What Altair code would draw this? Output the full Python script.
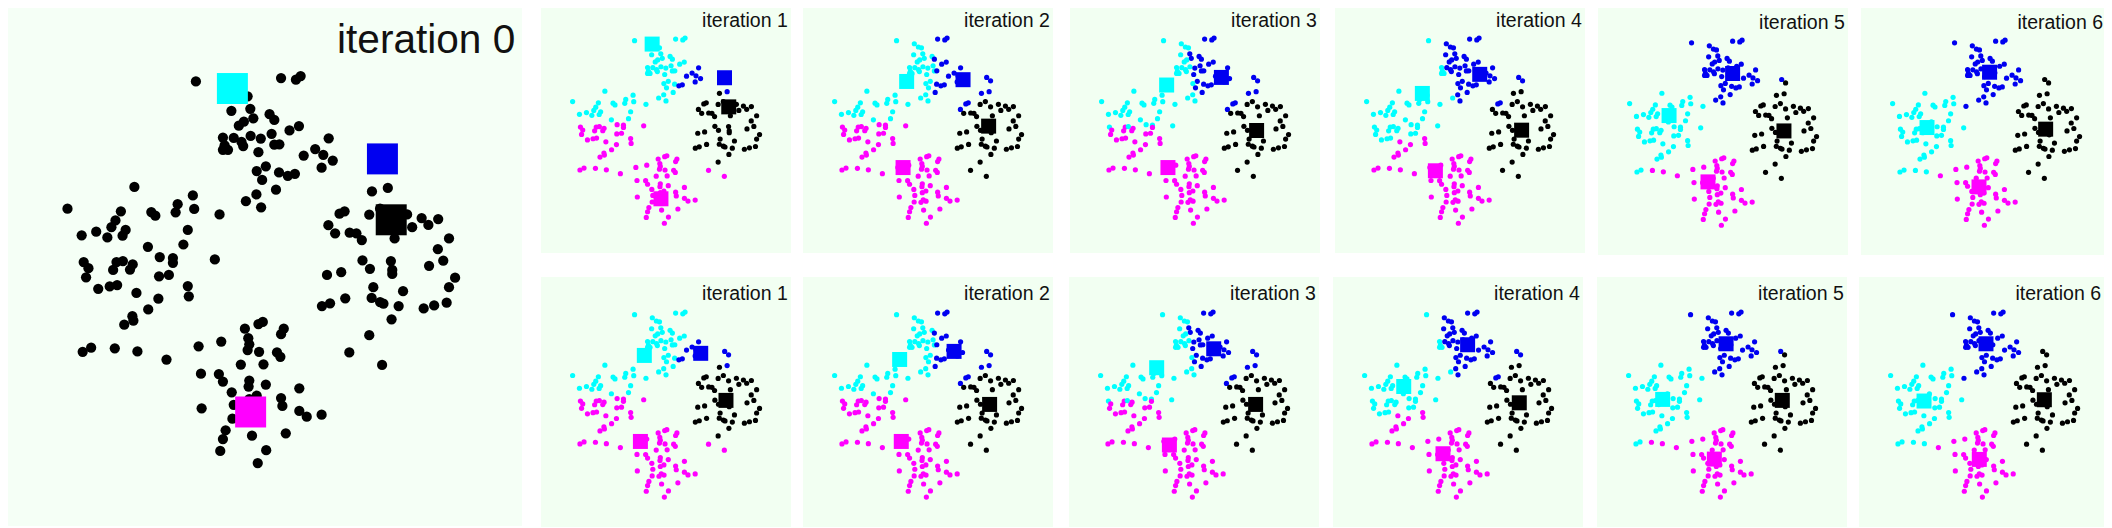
import altair as alt
import pandas as pd

# Point positions (shared by every panel).
TOP_X = [580,832,876,890,733,685,741,750,798,812,722,707,885,857,660,692,742,772,804,715,720,665,660,675,812,827,765,973,933,957,899,985,952,787,760,776,826,852,873,817,759,728,773,689,714]
TOP_Y = [241,231,236,225,285,328,322,350,338,355,360,372,373,386,407,408,402,410,396,420,432,430,443,443,428,427,450,409,441,458,460,475,496,492,506,532,510,520,514,561,575,595,613,260,280]
LEFT_X = [398,571,200,526,520,575,448,460,358,650,342,330,318,285,242,372,363,556,543,438,473,512,512,636,248,262,255,345,364,335,393,385,471,500,347,325,291,404,556,559,469,439,392,395,368,270,245,340,407,493]
LEFT_Y = [553,578,617,604,628,618,627,638,625,634,652,672,702,685,696,680,697,680,723,730,760,763,777,767,775,793,820,775,772,798,782,797,817,813,843,847,854,866,846,876,883,915,935,948,960,1028,1040,1030,1039,1063]
BOTTOM_X = [588,655,725,765,778,840,832,735,738,733,767,820,830,713,780,595,648,660,738,736,787,686,886,760,832,836,692,597,886,908,952,688,668,660,746,846,788,652,763,738,744,761,730]
BOTTOM_Y = [1024,1010,972,958,952,972,988,1000,1018,1035,1040,1042,1055,1078,1077,1105,1106,1128,1125,1143,1137,1160,1148,1170,1177,1200,1197,1207,1215,1232,1226,1238,1272,1298,1288,1281,1331,1333,1369,1180,1225,1233,1240]
RIGHT_X = [1148,1101,1020,1005,1093,1205,1248,1297,1268,1220,972,992,1035,1055,1071,1168,1329,1296,1073,1157,1312,1270,1095,1161,1161,1010,968,1347,1105,1329,1193,1100,1022,1125,1135,977,953,1322,1180,1285,1254,1159,1093,1034,1131,1133,1157,1125,1157]
RIGHT_Y = [556,566,625,632,635,634,645,648,665,672,666,690,688,690,710,705,705,737,770,772,771,786,795,798,810,805,813,821,849,849,861,881,882,893,898,897,905,895,905,903,912,944,991,1042,1079,468,489,617,650]

# Cluster of each point at iterations 1..6, in the order TOP, LEFT, BOTTOM, RIGHT.
TOP_LABELS = [
    "cccccccccc cccccccccc cccccccbbb bbbccccbbc ccccc",
    "cbbbcccccb ccbbcccccc cccccbcbbb bbbcccbbbb ccccc",
    "cbbbccbbbb ccbbcccbbc ccccbbbbbb bbbbcbbbbb ccccc",
    "cbbbbbbbbb bbbbcbbbbb bcccbbbbbb bbbbbbbbbb bcbbb",
    "bbbbbbbbbb bbbbbbbbbb bbbbbbbbbb bbbbbbbbbb bbbbb",
    "bbbbbbbbbb bbbbbbbbbb bbbbbbbbbb bbbbbbbbbb bbbbb",
]
LEFT_LABELS = [
    "cccccccccc cccccccccc mmmmmmmmmm mmmmmmmmmm mmmmmmmmmm",
    "cccccccccc cccccccccc mmmmmmmmmm mmmmmmmmmm mmmmmmmmmm",
    "cccccccccc cccccccccc ccmccmmmcm mmmmmmmmmm mmmmmmmmmm",
    "cccccccccc cccccccccc cccccccccc cccccccmmm mmmmmmmmmm",
    "cccccccccc cccccccccc cccccccccc cccccccccc cccccccmmm",
    "cccccccccb cccccccccc cccccccccc cccccccccc cccccccccm",
]
BOTTOM_LABELS = "mmmmmmmmmm mmmmmmmmmm mmmmmmmmmm mmmmmmmmmm mmm"
RIGHT_LABELS = [
    "bkkkkkkkkk kkkkkkkkkk kkkkkkkkkk kkkkkkkkkk kkkmm bbkk",
    "bbbbkkkkkk bkkkkkkkkk kkkkkkkkkk kkkkkkkkkk kkkkk bbkk",
    "bbbbkkkkkk bkkkkkkkkk kkkkkkkkkk kkkkkkkkkk kkkkk bbkk",
    "kkbbkkkkkk kkkkkkkkkk kkkkkkkkkk kkkkkkkkkk kkkkk bbkk",
    "kkkkkkkkkk kkkkkkkkkk kkkkkkkkkk kkkkkkkkkk kkkkk bkkk",
    "kkkkkkkkkk kkkkkkkkkk kkkkkkkkkk kkkkkkkkkk kkkkk kkkk",
]

# Centroids, order cyan, blue, black, magenta.
CENTROID_KEYS = ["c", "b", "k", "m"]
C0_X = [688,1132,1158,742]
C0_Y = [262,470,650,1218]
TOP_CX = [[688,1132,1158,742],[642,988,1145,620],[599,935,1151,607],[542,894,1151,622],[442,832,1147,681],[411,795,1139,730]]
TOP_CY = [[262,470,650,1218],[493,482,769,1025],[515,468,796,1025],[567,449,794,1045],[691,431,786,1101],[765,423,775,1132]]
BOT_CX = [[640,986,1141,616],[599,933,1151,609],[544,894,1151,622],[440,832,1149,681],[409,798,1143,726],[405,785,1143,744]]
BOT_CY = [[493,480,771,1025],[518,468,796,1025],[569,452,796,1047],[685,427,786,1101],[765,421,771,1134],[775,421,767,1136]]

X = TOP_X + LEFT_X + BOTTOM_X + RIGHT_X
Y = TOP_Y + LEFT_Y + BOTTOM_Y + RIGHT_Y
N = len(X)
PALETTE = alt.Scale(domain=CENTROID_KEYS, range=["#00ffff", "#0000f0", "#000000", "#ff00ff"])


def labels_for(i):
    s = TOP_LABELS[i] + LEFT_LABELS[i] + BOTTOM_LABELS + RIGHT_LABELS[i]
    return s.replace(" ", "")


def panel(keys, cx, cy, title, w, h, xdom, ydom, pt, sq, fs, tx, ty, bg):
    pts = pd.DataFrame({"x": X, "y": Y, "k": list(keys)})
    cen = pd.DataFrame({"x": cx, "y": cy, "k": CENTROID_KEYS})
    lab = pd.DataFrame({"x": [tx], "y": [ty], "t": [title]})
    xs = alt.X("x:Q", scale=alt.Scale(domain=xdom, nice=False, zero=False), axis=None)
    ys = alt.Y("y:Q", scale=alt.Scale(domain=ydom, nice=False, zero=False), axis=None)
    col = alt.Color("k:N", scale=PALETTE, legend=None)
    a = alt.Chart(pts).mark_circle(size=pt, opacity=1).encode(x=xs, y=ys, color=col)
    b = alt.Chart(cen).mark_square(size=sq, opacity=1).encode(x=xs, y=ys, color=col)
    c = alt.Chart(lab).mark_text(align="right", baseline="alphabetic", font="Liberation Sans",
                                 fontSize=fs, color="#111111").encode(x=xs, y=ys, text="t:N")
    return alt.layer(a, b, c).properties(width=w, height=h, view=alt.ViewConfig(fill=bg, strokeWidth=0))


def row(panels, gaps):
    out = panels[0]
    for p, g in zip(panels[1:], gaps):
        out = alt.hconcat(out, p, spacing=g)
    return out


BIG_BG = "#f5fff6"
SMALL_BG = "#f2fff2"
TOP_H = [245, 245, 245, 245, 247, 247]
TOP_YMIN = [39, 39, 39, 39, 26, 26]
TOP_GAPS = [12, 17, 15, 13, 13]
BOT_GAPS = [12, 16, 14, 14, 12]
TOP_W = [250, 250, 250, 250, 250, 243]
BOT_W = [250, 250, 250, 250, 250, 245]
TOP_XMAX = [1540, 1540, 1540, 1540, 1540, 1497]
BOT_XMAX = [1540, 1540, 1540, 1540, 1540, 1509]
LABEL_X = [1520, 1520, 1520, 1520, 1520, 1491]

big = panel("k" * N, C0_X, C0_Y, "iteration 0", 514, 518, [24, 1545], [1555, 24], 105, 960, 40.6, 1525, 158, BIG_BG)
tops = [panel(labels_for(i), TOP_CX[i], TOP_CY[i], f"iteration {i + 1}", TOP_W[i], TOP_H[i], [6, TOP_XMAX[i]],
              [1553, TOP_YMIN[i]], 27, 225, 19.5, LABEL_X[i], 156, SMALL_BG) for i in range(6)]
bots = [panel(labels_for(i), BOT_CX[i], BOT_CY[i], f"iteration {i + 1}", BOT_W[i], 250, [6, BOT_XMAX[i]],
              [1554, 8], 27, 225, 19.5, LABEL_X[i], 152, SMALL_BG) for i in range(6)]

right = alt.vconcat(row(tops, TOP_GAPS), row(bots, BOT_GAPS), spacing=22)
chart = alt.hconcat(big, right, spacing=19).properties(padding=0).configure_view(strokeWidth=0)
chart.save("out.html", embed_options={"renderer": "svg", "actions": False})
